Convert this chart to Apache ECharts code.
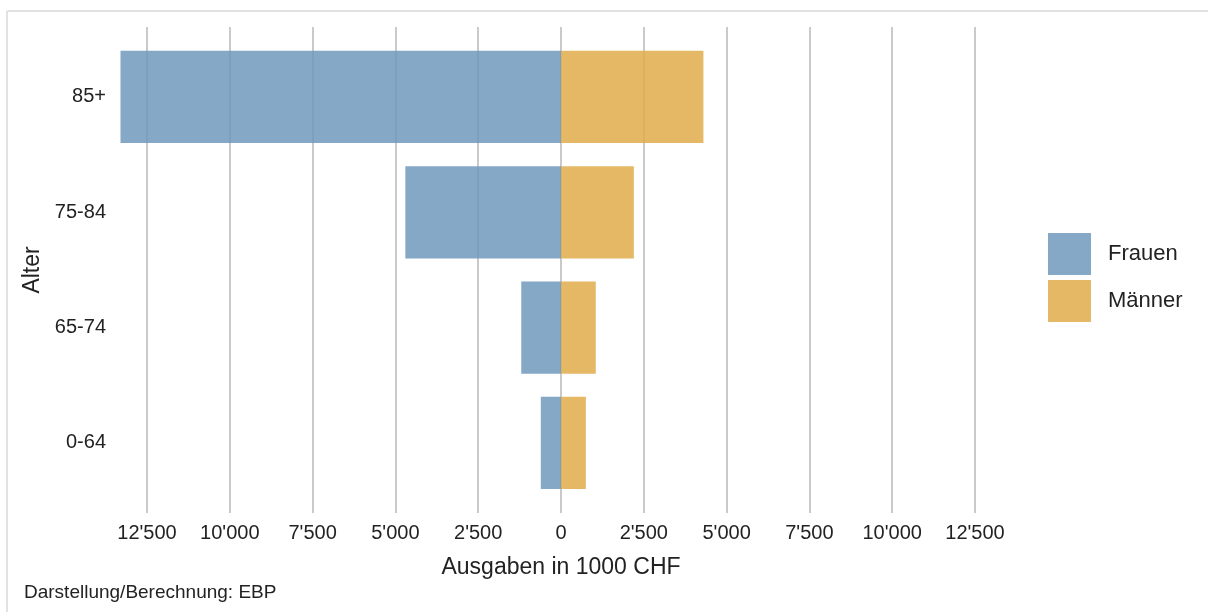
<!DOCTYPE html>
<html>
<head>
<meta charset="utf-8">
<script src="https://cdn.jsdelivr.net/npm/echarts@6/dist/echarts.min.js"></script>
<style>
  html, body { margin: 0; padding: 0; background: #fff; }
  #chart { width: 1208px; height: 612px; }
</style>
</head>
<body>
<div id="chart"></div>
<script>
// age groups, bottom to top
const ageGroups = ['0-64', '65-74', '75-84', '85+'];
// Ausgaben in 1000 CHF
const frauen = [610, 1200, 4700, 13300];
const maenner = [750, 1050, 2200, 4300];
const tickStep = 2500;

const font = "'Liberation Sans', Arial, sans-serif";

function fmt(v) {
  return String(Math.abs(v)).replace(/\B(?=(\d{3})+(?!\d))/g, "'");
}

const chart = echarts.init(document.getElementById('chart'));

const option = {
  animation: false,
  textStyle: { fontFamily: font, color: '#222' },
  grid: [
    // bars
    { left: 97.32, width: 927.36, top: 39.3, height: 461.3 },
    // gridlines + tick labels
    { left: 147, width: 828, top: 27, height: 486 }
  ],
  xAxis: [
    {
      gridIndex: 0, type: 'value', min: -14000, max: 14000,
      axisLine: { show: false }, axisTick: { show: false },
      axisLabel: { show: false }, splitLine: { show: false }
    },
    {
      gridIndex: 1, type: 'value', min: -12500, max: 12500, interval: tickStep,
      axisLine: { show: false }, axisTick: { show: false },
      splitLine: { lineStyle: { color: '#cacaca', width: 2 } },
      axisLabel: { fontSize: 20, color: '#222', margin: 10, formatter: fmt },
      name: 'Ausgaben in 1000 CHF', nameLocation: 'middle', nameGap: 43,
      nameTextStyle: { fontSize: 23, color: '#222' }
    }
  ],
  yAxis: [
    {
      gridIndex: 0, type: 'category', data: ageGroups,
      axisLine: { show: false }, axisTick: { show: false },
      axisLabel: { fontSize: 20, color: '#222', margin: -8.7 },
      name: 'Alter', nameLocation: 'middle', nameRotate: 90, nameGap: 52,
      nameTextStyle: { fontSize: 23, color: '#222' }
    },
    {
      gridIndex: 1, type: 'value', show: false
    }
  ],
  legend: {
    data: ['Frauen', 'Männer'],
    orient: 'vertical', left: 1043, top: 228,
    itemWidth: 43, itemHeight: 42, itemGap: 5,
    icon: 'rect', selectedMode: false,
    textStyle: { fontSize: 22, color: '#222', padding: [0, 0, 0, 12] }
  },
  graphic: [
    { type: 'line', shape: { x1: 7, y1: 11, x2: 1208, y2: 11 }, style: { stroke: '#e2e2e2', lineWidth: 2 } },
    { type: 'line', shape: { x1: 7, y1: 11, x2: 7, y2: 612 }, style: { stroke: '#e2e2e2', lineWidth: 2 } },
    {
      type: 'text', left: 24, top: 583,
      style: { text: 'Darstellung/Berechnung: EBP', font: '19px ' + font, fill: '#222' }
    }
  ],
  series: [
    {
      name: 'Frauen', type: 'bar', stack: 'total', barWidth: '80%',
      xAxisIndex: 0, yAxisIndex: 0,
      itemStyle: { color: 'rgba(110,153,188,0.85)' },
      data: frauen.map(v => -v)
    },
    {
      name: 'Männer', type: 'bar', stack: 'total', barWidth: '80%',
      xAxisIndex: 0, yAxisIndex: 0,
      itemStyle: { color: 'rgba(224,171,75,0.85)' },
      data: maenner
    }
  ]
};

chart.setOption(option);
</script>
</body>
</html>
